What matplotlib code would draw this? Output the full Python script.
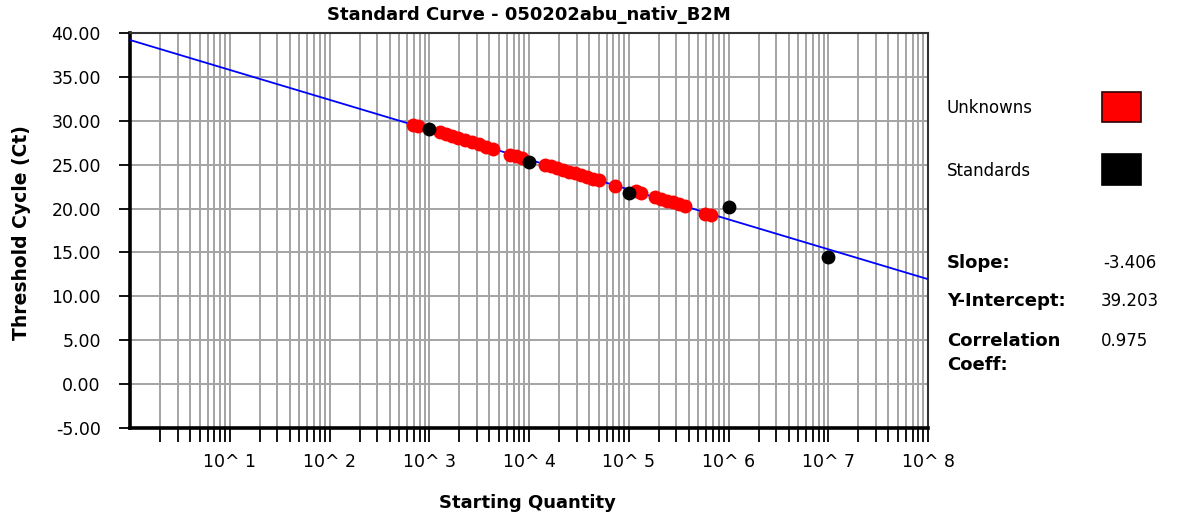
import numpy as np
import matplotlib
matplotlib.use("Agg")
import matplotlib.pyplot as plt
from matplotlib.patches import Rectangle
from matplotlib.ticker import LogLocator, FixedLocator, FixedFormatter, NullFormatter

# ---------------- data ----------------
title = "Standard Curve - 050202abu_nativ_B2M"
xlabel = "Starting Quantity"
ylabel = "Threshold Cycle (Ct)"

unknown_qty = [690, 771, 1282, 1472, 1690, 1941, 2281, 2685, 3155, 3706, 4355,
               6450, 7410, 8510, 14450, 16630, 19090, 21930, 25180, 28920, 33200,
               38190, 43850, 50350, 72780, 118300, 132700, 183300, 210400, 241700,
               277800, 319000, 366400, 580800, 668300]
unknown_ct = [29.5, 29.4, 28.7, 28.45, 28.25, 28.05, 27.8, 27.55, 27.3, 27.05, 26.8,
              26.15, 25.95, 25.75, 25.0, 24.8, 24.6, 24.4, 24.2, 24.0, 23.8,
              23.6, 23.4, 23.2, 22.55, 21.95, 21.8, 21.3, 21.1, 20.9,
              20.7, 20.5, 20.3, 19.4, 19.3]

standard_qty = [1e3, 1e4, 1e5, 1e6, 1e7]
standard_ct = [29.05, 25.3, 21.75, 20.15, 14.45]

slope = -3.406
intercept = 39.203
corr = 0.975

yticks = [-5, 0, 5, 10, 15, 20, 25, 30, 35, 40]
xtick_decades = [1e1, 1e2, 1e3, 1e4, 1e5, 1e6, 1e7, 1e8]
xtick_labels = ["10^ 1", "10^ 2", "10^ 3", "10^ 4", "10^ 5", "10^ 6", "10^ 7", "10^ 8"]

# ---------------- figure ----------------
W, H = 1181, 515
fig = plt.figure(figsize=(W / 100, H / 100), dpi=100)
fig.patch.set_facecolor("white")

L, R, T, B = 130, 928, 33, 428
ax = fig.add_axes([L / W, 1 - B / H, (R - L) / W, (B - T) / H])

ax.set_xscale("log")
ax.set_xlim(1, 1e8)
ax.set_ylim(-5, 40)

grid_c = "#a4a4a4"
ax.xaxis.set_major_locator(FixedLocator(xtick_decades))
ax.xaxis.set_major_formatter(FixedFormatter(xtick_labels))
ax.xaxis.set_minor_locator(LogLocator(base=10, subs=np.arange(2, 10), numticks=20))
ax.xaxis.set_minor_formatter(NullFormatter())
ax.set_yticks(yticks)
ax.set_yticklabels([f"{v:.2f}" for v in yticks])

ax.grid(True, which="both", axis="x", color=grid_c, linewidth=1.4)
ax.grid(True, which="major", axis="y", color=grid_c, linewidth=1.4)
ax.set_axisbelow(True)

ax.tick_params(axis="x", which="both", direction="out", length=10, width=1.3,
               color="black", pad=8, labelsize=12.5)
ax.tick_params(axis="y", which="major", direction="out", length=8, width=1.3,
               color="black", pad=13, labelsize=12.5)

for s in ["left", "bottom"]:
    ax.spines[s].set_linewidth(2.6)
    ax.spines[s].set_color("black")
for s in ["top", "right"]:
    ax.spines[s].set_linewidth(1.5)
    ax.spines[s].set_color("#333333")

# regression line
xl = np.logspace(0, 8, 200)
ax.plot(xl, slope * np.log10(xl) + intercept, color="#0000ff", linewidth=1.3, zorder=3)

ax.plot(unknown_qty, unknown_ct, "o", color="#ff0000", markersize=10,
        markeredgewidth=0, zorder=4)
ax.plot(standard_qty, standard_ct, "o", color="black", markersize=10,
        markeredgewidth=0, zorder=5)

bold = dict(fontweight="bold", family="DejaVu Sans")
fig.text((L + R) / 2 / W, 1 - 15 / H, title, ha="center", va="center", fontsize=13, **bold)
fig.text(527 / W, 1 - 503 / H, xlabel, ha="center", va="center", fontsize=13, **bold)
fig.text(22 / W, 1 - 233 / H, ylabel, ha="center", va="center", rotation=90, fontsize=13.5, **bold)

# legend
fig.text(947 / W, 1 - 108 / H, "Unknowns", ha="left", va="center", fontsize=12)
fig.text(947 / W, 1 - 171 / H, "Standards", ha="left", va="center", fontsize=12)
fig.patches.append(Rectangle((1102 / W, 1 - 122 / H), 39 / W, 30 / H, transform=fig.transFigure,
                             facecolor="#ff0000", edgecolor="#300000", linewidth=1.2))
fig.patches.append(Rectangle((1102 / W, 1 - 185 / H), 39 / W, 31 / H, transform=fig.transFigure,
                             facecolor="black", edgecolor="black", linewidth=1.2))

# stats
fig.text(947 / W, 1 - 263 / H, "Slope:", ha="left", va="center", fontsize=13, **bold)
fig.text(947 / W, 1 - 301 / H, "Y-Intercept:", ha="left", va="center", fontsize=13, **bold)
fig.text(947 / W, 1 - 341 / H, "Correlation", ha="left", va="center", fontsize=13, **bold)
fig.text(947 / W, 1 - 365 / H, "Coeff:", ha="left", va="center", fontsize=13, **bold)
fig.text(1103 / W, 1 - 263 / H, f"{slope:.3f}", ha="left", va="center", fontsize=12)
fig.text(1101 / W, 1 - 301 / H, f"{intercept:.3f}", ha="left", va="center", fontsize=12)
fig.text(1101 / W, 1 - 341 / H, f"{corr:.3f}", ha="left", va="center", fontsize=12)

fig.savefig("out.png", dpi=100, facecolor="white")
